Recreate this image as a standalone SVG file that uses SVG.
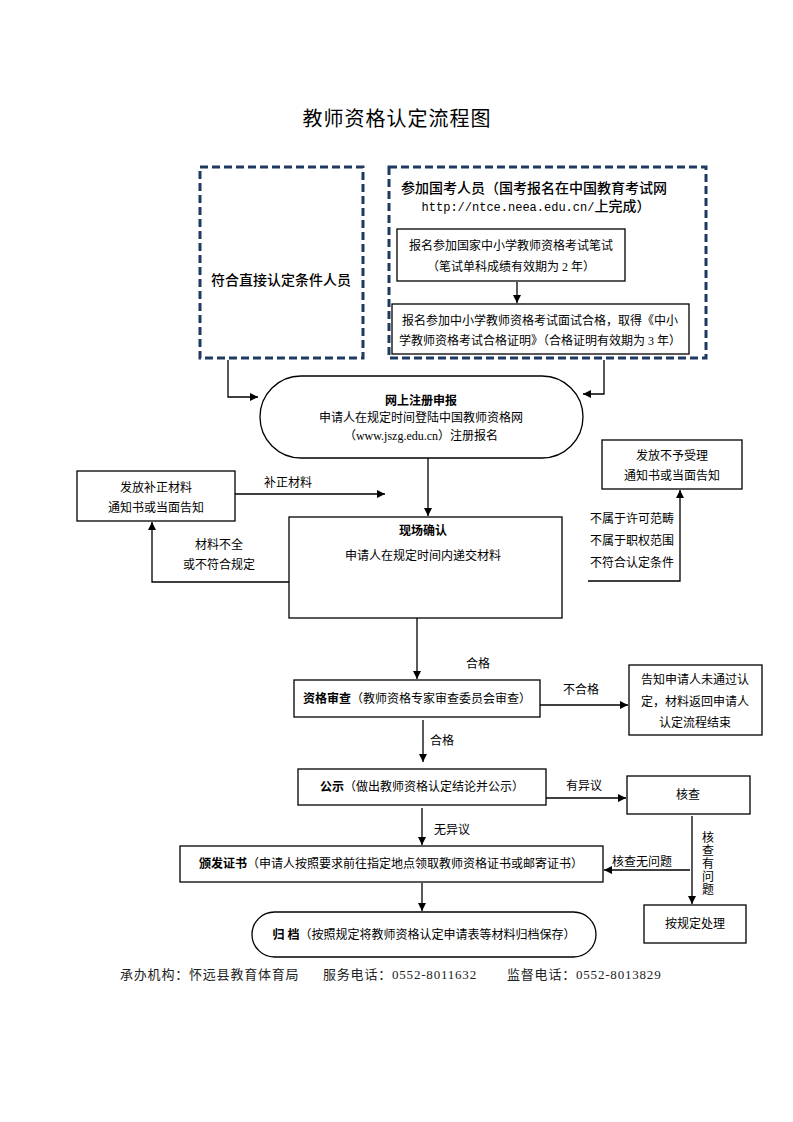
<svg xmlns="http://www.w3.org/2000/svg" width="793" height="1122" viewBox="0 0 793 1122">
<defs>
<style>
.bg{fill:#fff}
.box{fill:#fff;stroke:#000;stroke-width:1.3}
.dash{fill:none;stroke:#1f3a60;stroke-width:3;stroke-dasharray:8 4}
.ln{fill:none;stroke:#000;stroke-width:1.3}
.t{font-family:"Liberation Serif","Noto Sans CJK SC",serif;font-size:12px;fill:#000;text-anchor:middle}
.tl{font-family:"Liberation Serif","Noto Sans CJK SC",serif;font-size:12px;fill:#000}
.h{font-family:"Noto Sans CJK SC",sans-serif;font-size:14px;font-weight:500;fill:#000}
.b{font-weight:bold}
</style>
<marker id="ah" viewBox="0 0 10 10" refX="10" refY="5" markerWidth="8" markerHeight="8" markerUnits="userSpaceOnUse" orient="auto"><path d="M0,0 L10,5 L0,10 z" fill="#000"/></marker>
</defs>
<rect class="bg" x="0" y="0" width="793" height="1122"/>
<text x="397" y="126" style="font-family:'Liberation Serif','Noto Sans CJK SC',serif;font-size:20px;letter-spacing:1px;text-anchor:middle;fill:#000">教师资格认定流程图</text>

<g id="direct">
<rect class="dash" x="200" y="167" width="163" height="191"/>
<text class="h" x="281" y="285" text-anchor="middle">符合直接认定条件人员</text>
</g>
<g id="exam">
<rect class="dash" x="389" y="167" width="317" height="191"/>
<text class="h" x="401" y="193">参加国考人员（国考报名在中国教育考试网</text>
<text x="536" y="211" style="font-family:'Liberation Mono','Noto Sans CJK SC',monospace;font-size:12px;font-weight:500;text-anchor:middle;fill:#000">http://ntce.neea.edu.cn/<tspan style="font-family:'Noto Sans CJK SC',sans-serif;font-size:14px">上完成）</tspan></text>
</g>
<g id="written">
<rect class="box" x="397" y="229" width="228" height="52"/>
<text class="t" x="511" y="250">报名参加国家中小学教师资格考试笔试</text>
<text class="t" x="511" y="271">（笔试单科成绩有效期为 2 年）</text>
</g>
<g id="interview">
<rect class="box" x="392" y="304" width="297" height="50"/>
<text class="t" x="540" y="325">报名参加中小学教师资格考试面试合格，取得《中小</text>
<text class="t" x="540" y="345">学教师资格考试合格证明》（合格证明有效期为 3 年）</text>
</g>
<g id="register">
<rect class="box" x="260" y="376" width="323" height="82" rx="41" ry="41"/>
<text class="t b" x="421" y="405">网上注册申报</text>
<text class="t" x="421" y="422">申请人在规定时间登陆中国教师资格网</text>
<text class="t" x="421" y="440">（www.jszg.edu.cn）注册报名</text>
</g>
<g id="supplement">
<rect class="box" x="77" y="471" width="158" height="50"/>
<text class="t" x="156" y="492">发放补正材料</text>
<text class="t" x="156" y="512">通知书或当面告知</text>
</g>
<g id="reject">
<rect class="box" x="602" y="440" width="140" height="49"/>
<text class="t" x="672" y="460">发放不予受理</text>
<text class="t" x="672" y="480">通知书或当面告知</text>
</g>
<g id="confirm">
<rect class="box" x="289" y="517" width="273" height="101"/>
<text class="t b" x="423" y="535">现场确认</text>
<text class="t" x="423" y="560">申请人在规定时间内递交材料</text>
</g>
<g id="review">
<rect class="box" x="294" y="680" width="246" height="37"/>
<text class="t" x="417" y="703"><tspan class="b">资格审查</tspan>（教师资格专家审查委员会审查）</text>
</g>
<g id="fail">
<rect class="box" x="629" y="665" width="133" height="70"/>
<text class="t" x="695" y="684">告知申请人未通过认</text>
<text class="t" x="695" y="706">定，材料返回申请人</text>
<text class="t" x="695" y="727">认定流程结束</text>
</g>
<g id="publicity">
<rect class="box" x="298" y="769" width="248" height="36"/>
<text class="t" x="422" y="791"><tspan class="b">公示</tspan>（做出教师资格认定结论并公示）</text>
</g>
<g id="check">
<rect class="box" x="627" y="776" width="123" height="38"/>
<text class="t" x="688" y="799">核查</text>
</g>
<g id="issue">
<rect class="box" x="180" y="846" width="423" height="36"/>
<text class="t" x="391" y="868"><tspan class="b">颁发证书</tspan>（申请人按照要求前往指定地点领取教师资格证书或邮寄证书）</text>
</g>
<g id="handle">
<rect class="box" x="644" y="905" width="102" height="38"/>
<text class="t" x="695" y="928">按规定处理</text>
</g>
<g id="archive">
<rect class="box" x="252" y="912" width="344" height="45" rx="22.5" ry="22.5"/>
<text class="t" x="424" y="939"><tspan class="b">归 档</tspan>（按照规定将教师资格认定申请表等材料归档保存）</text>
</g>

<g id="connectors">
<path class="ln" d="M517,282 V303" marker-end="url(#ah)"/>
<path class="ln" d="M228,360 V397 H258" marker-end="url(#ah)"/>
<path class="ln" d="M604,360 V394 H583" marker-end="url(#ah)"/>
<path class="ln" d="M428,458 V516" marker-end="url(#ah)"/>
<path class="ln" d="M235,494 H385" marker-end="url(#ah)"/>
<text class="tl" x="264" y="487">补正材料</text>
<path class="ln" d="M289,582 H152 V522" marker-end="url(#ah)"/>
<text class="t" x="219" y="549">材料不全</text>
<text class="t" x="219" y="569">或不符合规定</text>
<path class="ln" d="M588,581 H680 V490" marker-end="url(#ah)"/>
<text class="tl" x="590" y="523">不属于许可范畴</text>
<text class="tl" x="590" y="545">不属于职权范围</text>
<text class="tl" x="590" y="567">不符合认定条件</text>
<path class="ln" d="M417,618 V679" marker-end="url(#ah)"/>
<text class="tl" x="466" y="668">合格</text>
<path class="ln" d="M540,705 H628" marker-end="url(#ah)"/>
<text class="tl" x="563" y="694">不合格</text>
<path class="ln" d="M423,720 V762" marker-end="url(#ah)"/>
<text class="tl" x="430" y="745">合格</text>
<path class="ln" d="M546,798 H626" marker-end="url(#ah)"/>
<text class="tl" x="566" y="790">有异议</text>
<path class="ln" d="M422,808 V845" marker-end="url(#ah)"/>
<text class="tl" x="434" y="834">无异议</text>
<path class="ln" d="M692,816 V904" marker-end="url(#ah)"/>
<text class="t" x="708" y="842">核</text>
<text class="t" x="708" y="855">查</text>
<text class="t" x="708" y="868">有</text>
<text class="t" x="708" y="881">问</text>
<text class="t" x="708" y="894">题</text>
<path class="ln" d="M690,870 H604" marker-end="url(#ah)"/>
<text class="tl" x="612" y="866">核查无问题</text>
<path class="ln" d="M422,883 V911" marker-end="url(#ah)"/>
</g>

<g id="footer" style="font-family:'Liberation Serif','Noto Sans CJK SC',serif;font-size:13px;letter-spacing:0.8px;fill:#222">
<text x="120" y="979">承办机构：怀远县教育体育局</text>
<text x="323" y="979">服务电话：0552-8011632</text>
<text x="507" y="979">监督电话：0552-8013829</text>
</g>
</svg>
